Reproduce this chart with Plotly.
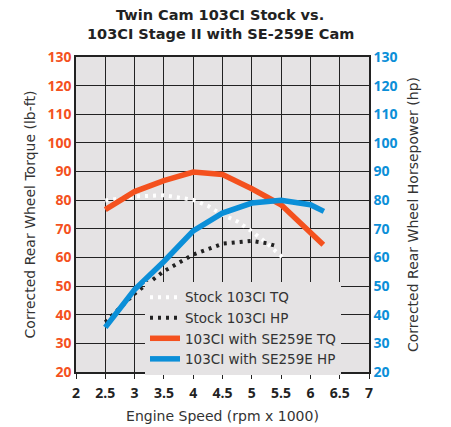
import plotly.graph_objects as go

# Data (engine speed in rpm x 1000)
stock_tq_x = [2.5, 3.0, 3.5, 4.0, 4.25, 4.5, 4.75, 5.0, 5.25, 5.55]
stock_tq_y = [79.9, 81.3, 81.7, 80.1, 78.0, 74.9, 72.6, 69.1, 65.1, 59.5]

stock_hp_x = [2.5, 3.0, 3.5, 4.0, 4.5, 5.0, 5.25, 5.43]
stock_hp_y = [37.4, 47.4, 55.2, 61.0, 64.8, 65.8, 65.0, 63.9]

se_tq_x = [2.5, 3.0, 3.5, 4.0, 4.5, 5.0, 5.5, 6.0, 6.22]
se_tq_y = [76.7, 83.0, 86.8, 89.8, 89.0, 84.0, 78.4, 69.1, 64.4]

se_hp_x = [2.5, 3.0, 3.5, 4.0, 4.5, 5.0, 5.5, 6.0, 6.23]
se_hp_y = [35.6, 48.8, 58.6, 69.3, 75.5, 79.0, 80.0, 78.4, 76.1]

x_ticks = [2, 2.5, 3, 3.5, 4, 4.5, 5, 5.5, 6, 6.5, 7]
x_tick_text = ["2", "2.5", "3", "3.5", "4", "4.5", "5", "5.5", "6", "6.5", "7"]
y_ticks = [20, 30, 40, 50, 60, 70, 80, 90, 100, 110, 120, 130]

title_lines = ["Twin Cam 103CI Stock vs.", "103CI Stage II with SE-259E Cam"]

ORANGE = "#f4511e"
BLUE = "#0b8fd8"
BG = "#e5e3e4"
DARK = "#222222"
TXT = "#333333"
TICKFONT = "Open Sans"
FONT = "DejaVu Sans"

fig = go.Figure()
fig.add_trace(go.Scatter(x=stock_tq_x, y=stock_tq_y, name="Stock 103CI TQ", mode="lines",
                         line=dict(color="white", width=4, dash="3px,5px"), legendrank=1))
fig.add_trace(go.Scatter(x=stock_hp_x, y=stock_hp_y, name="Stock 103CI HP", mode="lines",
                         line=dict(color=DARK, width=4, dash="3px,5px"), yaxis="y2", legendrank=2))
fig.add_trace(go.Scatter(x=se_hp_x, y=se_hp_y, name="103CI with SE259E HP", mode="lines",
                         line=dict(color=BLUE, width=5.5), yaxis="y2", legendrank=4))
fig.add_trace(go.Scatter(x=se_tq_x, y=se_tq_y, name="103CI with SE259E TQ", mode="lines",
                         line=dict(color=ORANGE, width=5.5), legendrank=3))

for txt, ty in zip(title_lines, [1.1333, 1.073]):
    fig.add_annotation(text="<b>" + txt + "</b>", xref="paper", yref="paper",
                       x=0.493, y=ty, xanchor="center", yanchor="middle", showarrow=False,
                       font=dict(size=14.5, color=DARK, family=FONT))

fig.update_layout(
    width=451, height=427,
    margin=dict(l=68, r=90, t=49, b=63, autoexpand=False),
    paper_bgcolor="white",
    plot_bgcolor=BG,
    font=dict(family=FONT, color=DARK, size=14),
    xaxis=dict(range=[2, 7], tickvals=x_ticks, ticktext=x_tick_text,
               showgrid=True, gridcolor=DARK, gridwidth=1.2,
               showline=True, linecolor=DARK, linewidth=1.5, mirror=True,
               ticks="outside", ticklen=5, tickcolor=DARK, ticklabelstandoff=2,
               tickfont=dict(size=14, color=DARK, family=TICKFONT, weight="bold"),
               title=dict(text="Engine Speed (rpm x 1000)", font=dict(size=14, color=TXT, family=FONT), standoff=11),
               zeroline=False, automargin=False),
    yaxis=dict(range=[20, 130], tickvals=y_ticks,
               showgrid=True, gridcolor=DARK, gridwidth=1.2,
               showline=True, linecolor=DARK, linewidth=1.5,
               ticks="", tickfont=dict(size=14, color=ORANGE, family=TICKFONT, weight="bold"),
               title=dict(text="Corrected Rear Wheel Torque (lb-ft)", font=dict(size=14, color=TXT, family=FONT), standoff=9),
               zeroline=False, automargin=False),
    yaxis2=dict(range=[20, 130], tickvals=y_ticks, overlaying="y", side="right",
                showgrid=False, showline=True, linecolor=DARK, linewidth=1.5,
                ticks="", tickfont=dict(size=14, color=BLUE, family=TICKFONT, weight="bold"),
                title=dict(text="Corrected Rear Wheel Horsepower (hp)", font=dict(size=14, color=TXT, family=FONT), standoff=12),
                zeroline=False, automargin=False),
    legend=dict(x=0.2355, y=0.286, xanchor="left", yanchor="top",
                bgcolor=BG, borderwidth=0, itemwidth=30, tracegroupgap=0,
                font=dict(size=13.5, color=TXT, family=FONT)),
    showlegend=True,
)

fig.write_html("out.html")
